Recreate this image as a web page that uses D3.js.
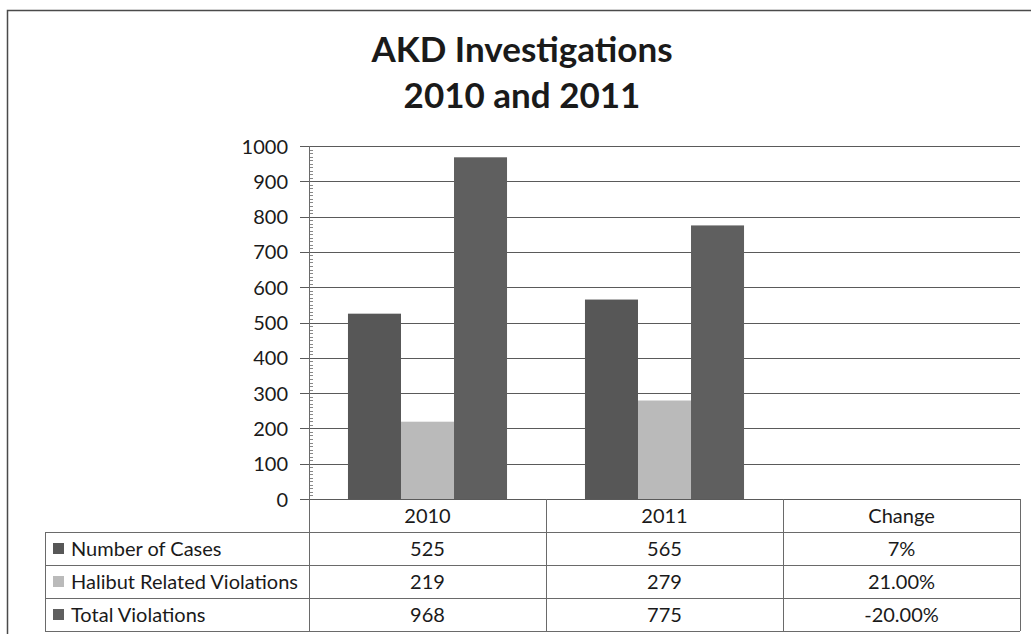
<!DOCTYPE html>
<html>
<head>
<meta charset="utf-8">
<script src="https://cdn.jsdelivr.net/npm/d3@7"></script>
<style>
  html, body { margin: 0; padding: 0; background: #fff; }
  svg { display: block; }
  text { font-family: Lato, "Open Sans", sans-serif; fill: #1a1a1a; }
</style>
</head>
<body>
<svg id="chart" width="1031" height="634"></svg>
<script>
// ---- data ----
const categories = ["2010", "2011", "Change"];
const seriesNames = ["Number of Cases", "Halibut Related Violations", "Total Violations"];
const numberOfCases = [525, 565];
const halibutViolations = [219, 279];
const totalViolations = [968, 775];
const changeLabels = ["7%", "21.00%", "-20.00%"];
const yTicks = [0, 100, 200, 300, 400, 500, 600, 700, 800, 900, 1000];
const titleLines = ["AKD Investigations", "2010 and 2011"];

const seriesColors = ["#575757", "#bababa", "#5f5f5f"];
const seriesValues = [numberOfCases, halibutViolations, totalViolations];

const svg = d3.select("#chart");

// frame
svg.append("path")
  .attr("d", "M7.5,634 L7.5,10.5 L1031,10.5")
  .attr("fill", "none").attr("stroke", "#4a4a4a").attr("stroke-width", 1.5);

// title
svg.selectAll("text.title").data(titleLines).enter().append("text")
  .attr("class", "title")
  .attr("x", 522).attr("y", (d, i) => 62 + i * 46)
  .attr("text-anchor", "middle")
  .style("font-size", "35px").style("font-weight", "700")
  .text(d => d);

// scales
const plotLeft = 309, plotRight = 1020, plotTop = 146, plotBottom = 499;
const x = d3.scaleBand().domain(categories).range([plotLeft, plotRight]).paddingInner(0).paddingOuter(0);
const xs = d3.scaleBand().domain(seriesNames).range([0, x.bandwidth()]).paddingInner(0).paddingOuter(0.735);
const y = d3.scaleLinear().domain([0, 1000]).range([plotBottom, plotTop]);

// gridlines
svg.append("g").selectAll("line").data(yTicks).enter().append("line")
  .attr("x1", plotLeft - 9).attr("x2", plotRight)
  .attr("y1", d => Math.round(y(d)) + 0.5).attr("y2", d => Math.round(y(d)) + 0.5)
  .attr("stroke", "#5a5a5a").attr("stroke-width", 1);

// minor ticks
const minor = d3.range(0, 1001, 10).filter(v => v % 100 !== 0);
svg.append("g").selectAll("line").data(minor).enter().append("line")
  .attr("x1", plotLeft).attr("x2", plotLeft + 4)
  .attr("y1", d => Math.round(y(d)) + 0.5).attr("y2", d => Math.round(y(d)) + 0.5)
  .attr("stroke", "#888").attr("stroke-width", 1);

// y axis labels via d3 axis
const yAxis = d3.axisLeft(y).tickValues(yTicks).tickSize(0).tickPadding(0).tickFormat(d3.format("d"));
const gY = svg.append("g").attr("transform", `translate(${plotLeft - 21},0)`).call(yAxis);
gY.select(".domain").remove();
gY.selectAll("text").style("font-size", "20px").style("font-family", "Lato, sans-serif").attr("fill", "#1a1a1a").attr("dy", "0.35em");

// bars
const barData = [];
seriesNames.forEach((s, si) => {
  seriesValues[si].forEach((v, ci) => barData.push({ s, si, cat: categories[ci], v }));
});
svg.append("g").selectAll("rect").data(barData).enter().append("rect")
  .attr("x", d => x(d.cat) + xs(d.s))
  .attr("width", xs.bandwidth())
  .attr("y", d => y(d.v))
  .attr("height", d => y(0) - y(d.v))
  .attr("fill", d => seriesColors[d.si]);

// table
const tableLeft = 45, rowH = 33, headerTop = plotBottom;
const tableBottom = headerTop + rowH * 4;
const tg = svg.append("g");
const lineColor = "#6a6a6a";
const vx = [plotLeft, x("2011"), x("Change"), plotRight];
tg.append("line").attr("x1", plotLeft + 0.5).attr("x2", plotLeft + 0.5).attr("y1", plotTop).attr("y2", tableBottom)
  .attr("stroke", lineColor);
vx.slice(1).forEach(vv => {
  tg.append("line").attr("x1", Math.round(vv) + 0.5).attr("x2", Math.round(vv) + 0.5)
    .attr("y1", headerTop).attr("y2", tableBottom).attr("stroke", lineColor);
});
tg.append("line").attr("x1", tableLeft + 0.5).attr("x2", tableLeft + 0.5)
  .attr("y1", headerTop + rowH).attr("y2", tableBottom).attr("stroke", lineColor);
for (let r = 1; r <= 4; r++) {
  const yy = Math.round(headerTop + rowH * r) + 0.5;
  tg.append("line").attr("x1", tableLeft).attr("x2", plotRight).attr("y1", yy).attr("y2", yy).attr("stroke", lineColor);
}
tg.selectAll("text.hdr").data(categories).enter().append("text")
  .attr("x", d => x(d) + x.bandwidth() / 2)
  .attr("y", headerTop + 24)
  .attr("text-anchor", "middle").style("font-size", "20px")
  .text(d => d);
seriesNames.forEach((s, si) => {
  const top = headerTop + rowH * (si + 1);
  tg.append("rect").attr("x", 53).attr("y", top + 11).attr("width", 11).attr("height", 11)
    .attr("fill", seriesColors[si]);
  tg.append("text").attr("x", 71).attr("y", top + 24).style("font-size", "20px").text(s);
  const vals = [seriesValues[si][0], seriesValues[si][1], changeLabels[si]];
  vals.forEach((v, ci) => {
    tg.append("text").attr("x", x(categories[ci]) + x.bandwidth() / 2).attr("y", top + 24)
      .attr("text-anchor", "middle").style("font-size", "20px").text(v);
  });
});
</script>
</body>
</html>
